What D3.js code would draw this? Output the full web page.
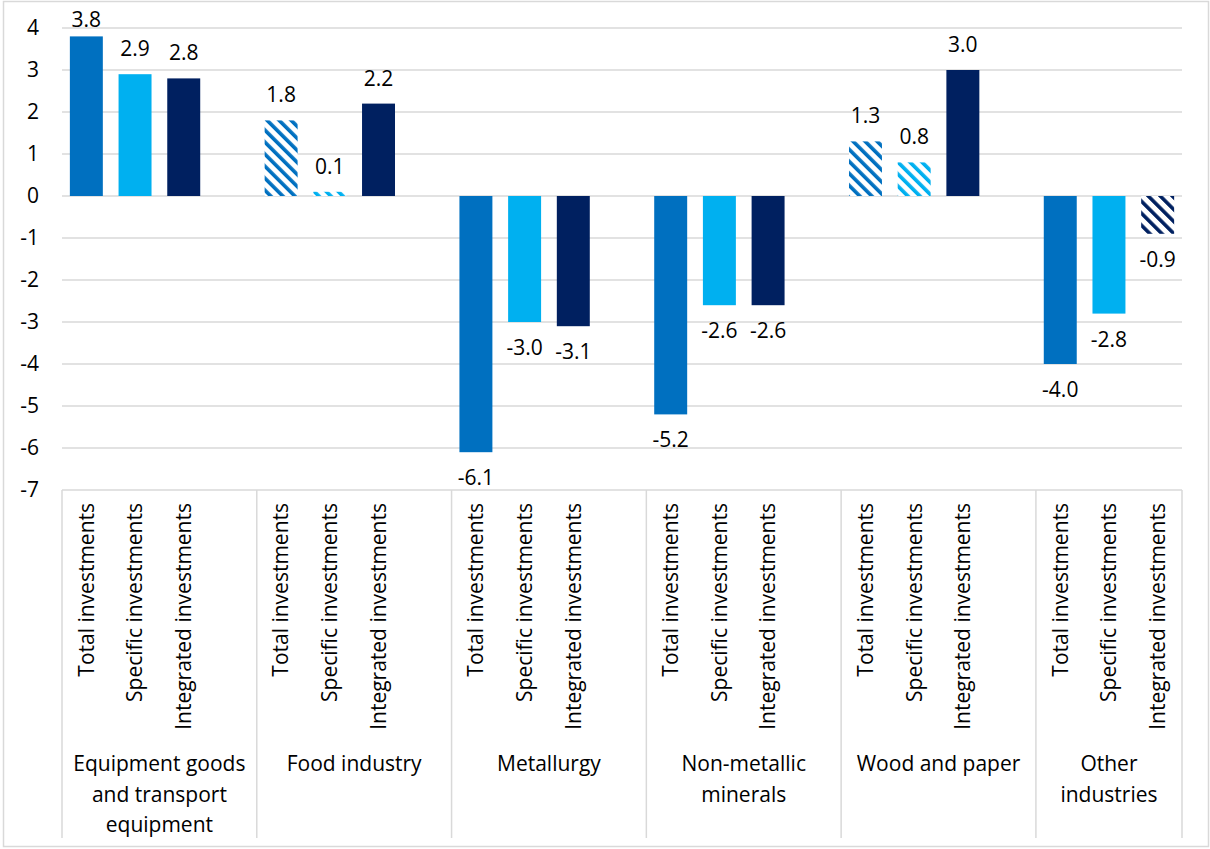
<!DOCTYPE html>
<html>
<head>
<meta charset="utf-8">
<script src="https://cdn.jsdelivr.net/npm/d3@7"></script>
<style>
  html, body { margin: 0; padding: 0; background: #fff; }
  svg { display: block; }
  text { font-family: "Open Sans", "Noto Sans", sans-serif; fill: #000; }
</style>
</head>
<body>
<svg id="chart" width="1210" height="849"></svg>
<script>
// ---- data ----
const groups = [
  ["Equipment goods", "and transport", "equipment"],
  ["Food industry"],
  ["Metallurgy"],
  ["Non-metallic", "minerals"],
  ["Wood and paper"],
  ["Other", "industries"]
];
const seriesNames = ["Total investments", "Specific investments", "Integrated investments"];
const totalValues      = [3.8, 1.8, -6.1, -5.2, 1.3, -4.0];
const specificValues   = [2.9, 0.1, -3.0, -2.6, 0.8, -2.8];
const integratedValues = [2.8, 2.2, -3.1, -2.6, 3.0, -0.9];
const totalHatched      = [false, true, false, false, true, false];
const specificHatched   = [false, true, false, false, true, false];
const integratedHatched = [false, false, false, false, false, true];
const yTicks = [4, 3, 2, 1, 0, -1, -2, -3, -4, -5, -6, -7];
const seriesColors = ["#0070C0", "#00B0F0", "#002060"];

// ---- build rows ----
const seriesValues = [totalValues, specificValues, integratedValues];
const seriesHatch = [totalHatched, specificHatched, integratedHatched];
const slots = [];
const bars = [];
groups.forEach((g, gi) => {
  seriesNames.forEach((s, si) => {
    const key = gi + "-" + si;
    slots.push(key);
    bars.push({key, gi, si, name: s, value: seriesValues[si][gi], hatched: seriesHatch[si][gi]});
  });
  if (gi < groups.length - 1) slots.push("blank-" + gi);
});

const svg = d3.select("#chart");
const plotLeft = 62, plotRight = 1182, plotTop = 28, plotBottom = 490;
const fs = 21;

// outer border
svg.append("rect").attr("x", 3.5).attr("y", 1.5).attr("width", 1205).attr("height", 845)
  .attr("fill", "none").attr("stroke", "#d9d9d9").attr("stroke-width", 1.5);

const x = d3.scaleBand().domain(slots).range([plotLeft, plotRight]).paddingInner(0.323).paddingOuter(0.1615);
const y = d3.scaleLinear().domain([-7, 4]).range([plotBottom, plotTop]);

// patterns
const defs = svg.append("defs");
seriesColors.forEach((c, i) => {
  const p = defs.append("pattern").attr("id", "hatch" + i)
    .attr("patternUnits", "userSpaceOnUse").attr("width", 8.5).attr("height", 8.5)
    .attr("patternTransform", "rotate(-45)");
  p.append("rect").attr("width", 8.5).attr("height", 8.5).attr("fill", "#fff");
  p.append("rect").attr("x", 0).attr("y", 0).attr("width", 3.6).attr("height", 8.5).attr("fill", c);
});

// gridlines
svg.append("g").selectAll("line").data(yTicks).join("line")
  .attr("x1", plotLeft).attr("x2", plotRight)
  .attr("y1", d => y(d)).attr("y2", d => y(d))
  .attr("stroke", "#d9d9d9").attr("stroke-width", 1.5);

// y labels
svg.append("g").selectAll("text").data(yTicks).join("text")
  .attr("x", 39).attr("y", d => y(d)).attr("dy", "0.35em")
  .attr("text-anchor", "end").attr("font-size", fs)
  .text(d => d);

// bars
svg.append("g").selectAll("rect").data(bars).join("rect")
  .attr("x", d => x(d.key)).attr("width", x.bandwidth())
  .attr("y", d => y(Math.max(0, d.value)))
  .attr("height", d => Math.abs(y(d.value) - y(0)))
  .attr("fill", d => d.hatched ? `url(#hatch${d.si})` : seriesColors[d.si]);

// value labels
svg.append("g").selectAll("text").data(bars).join("text")
  .attr("x", d => x(d.key) + x.bandwidth() / 2)
  .attr("y", d => d.value >= 0 ? Math.max(y(d.value) - 18, 27) : y(d.value) + 33)
  .attr("text-anchor", "middle").attr("font-size", fs)
  .text(d => d.value.toFixed(1));

// category axis: separators
const edges = [plotLeft];
groups.forEach((g, gi) => {
  if (gi > 0) edges.push(x("blank-" + (gi - 1)) + x.bandwidth() + (x.step() - x.bandwidth()) / 2);
});
edges.push(plotRight);
svg.append("g").selectAll("line").data(edges).join("line")
  .attr("x1", d => d).attr("x2", d => d).attr("y1", plotBottom).attr("y2", 838)
  .attr("stroke", "#d9d9d9").attr("stroke-width", 1.5);

// rotated series labels
svg.append("g").selectAll("text").data(bars).join("text")
  .attr("transform", d => `translate(${x(d.key) + x.bandwidth() / 2},503) rotate(-90)`)
  .attr("dy", "0.35em")
  .attr("text-anchor", "end").attr("font-size", fs)
  .text(d => d.name);

// group labels
const gl = svg.append("g").selectAll("text").data(groups).join("text")
  .attr("text-anchor", "middle").attr("font-size", fs);
gl.each(function(lines, gi) {
  const cx = (edges[gi] + edges[gi + 1]) / 2;
  d3.select(this).selectAll("tspan").data(lines).join("tspan")
    .attr("x", cx).attr("y", (d, i) => 771 + i * 30.5)
    .text(d => d);
});
</script>
</body>
</html>
